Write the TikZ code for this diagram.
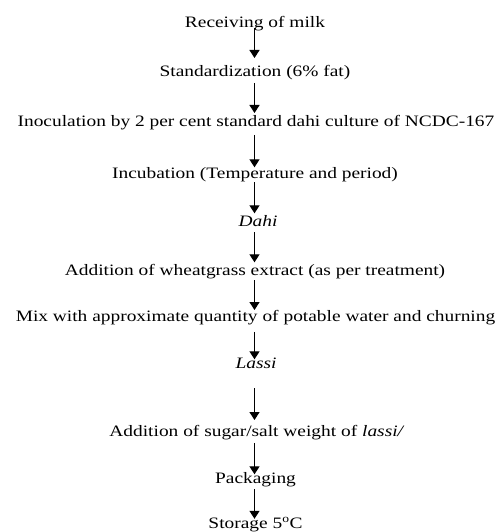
\documentclass[tikz,border=0pt]{standalone}
\usepackage{fontspec}
\setmainfont{Liberation Serif}[FakeStretch=1.22]
\usetikzlibrary{arrows.meta}
\begin{document}
\begin{tikzpicture}[x=1pt,y=-1pt,
  stepnode/.style={anchor=base,inner sep=0pt,text height=10.5pt,text depth=0pt,font=\fontsize{15.9pt}{18pt}\selectfont},
  arr/.style={line width=1.3pt,-{Triangle[width=10pt,length=8pt]}}]
\useasboundingbox (0,0) rectangle (503,532);
\node[stepnode] (n1) at (255,27.7) {Receiving of milk};
\node[stepnode] (n2) at (255,76.7) {Standardization (6\% fat)};
\node[stepnode] (n3) at (256,126.7) {Inoculation by 2 per cent standard dahi culture of NCDC-167};
\node[stepnode] (n4) at (255,178) {Incubation (Temperature and period)};
\node[stepnode] (n5) at (258,226) {\textit{Dahi}};
\node[stepnode] (n6) at (255,275) {Addition of wheatgrass extract (as per treatment)};
\node[stepnode] (n7) at (255.5,321.7) {Mix with approximate quantity of potable water and churning};
\node[stepnode] (n8) at (256,368) {\textit{Lassi}};
\node[stepnode] (n9) at (257,436.7) {Addition of sugar/salt weight of \textit{lassi/}};
\node[stepnode] (n10) at (255.5,483) {Packaging};
\node[stepnode] (n11) at (255.5,528.5) {Storage 5\textsuperscript{o}C};
\draw[arr,shorten <=0pt,shorten >=8pt] (n1.south -| 254.5,0) -- (n2.north -| 254.5,0);
\draw[arr,shorten <=6pt,shorten >=3pt] (n2.south -| 254.5,0) -- (n3.north -| 254.5,0);
\draw[arr,shorten <=8pt,shorten >=0pt] (n3.south -| 254.5,0) -- (n4.north -| 254.5,0);
\draw[arr,shorten <=4pt,shorten >=2pt] (n4.south -| 254.5,0) -- (n5.north -| 254.5,0);
\draw[arr,shorten <=6pt,shorten >=2pt] (n5.south -| 254.5,0) -- (n6.north -| 254.5,0);
\draw[arr,shorten <=5pt,shorten >=1pt] (n6.south -| 254.5,0) -- (n7.north -| 254.5,0);
\draw[arr,shorten <=10pt,shorten >=-2pt] (n7.south -| 254.5,0) -- (n8.north -| 254.5,0);
\draw[arr,shorten <=20pt,shorten >=6pt] (n8.south -| 254.5,0) -- (n9.north -| 254.5,0);
\draw[arr,shorten <=6pt,shorten >=-2pt] (n9.south -| 254.5,0) -- (n10.north -| 254.5,0);
\draw[arr,shorten <=6pt,shorten >=-1pt] (n10.south -| 254.5,0) -- (n11.north -| 254.5,0);
\end{tikzpicture}
\end{document}
